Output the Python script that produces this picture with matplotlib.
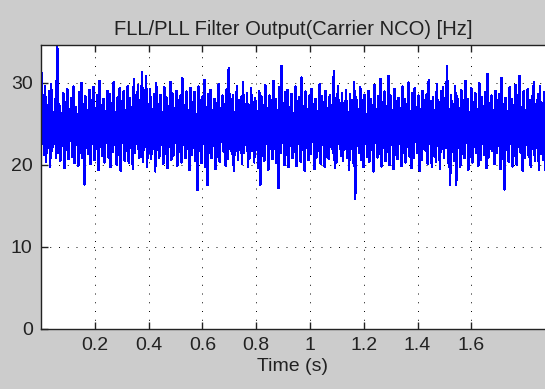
import matplotlib
matplotlib.use("Agg")
import matplotlib.pyplot as plt
import numpy as np

# upper and lower swings of the NCO output, read left to right off the plot
peaks = [
    33.0, 28.4, 29.6, 27.1, 28.9, 29.8, 26.4, 28.0, 34.5, 27.3, 25.9, 28.7, 27.6, 29.2, 26.8, 28.1, 29.5, 27.0, 26.2, 28.8, 29.9, 27.4, 28.3, 26.6, 29.1,
    27.8, 29.4, 26.9, 28.5, 30.2, 27.2, 28.0, 26.5, 29.0, 28.6, 27.5, 30.0, 26.3, 28.2, 29.3, 27.7, 28.9, 26.7, 29.6, 28.1, 27.0, 30.4, 28.4, 29.7, 27.9,
    31.3, 28.0, 30.8, 27.4, 29.2, 26.8, 28.6, 29.9, 27.3, 28.5, 26.4, 29.4, 28.2, 27.1, 30.1, 28.7, 26.9, 29.0, 27.8, 28.4, 30.5, 27.2, 28.9, 26.6, 29.3,
    27.6, 28.8, 26.2, 29.5, 27.9, 28.3, 30.3, 27.0, 28.6, 29.1, 26.7, 28.0, 27.5, 29.8, 26.9, 28.4, 27.3, 29.2, 31.8, 27.7, 28.5, 26.4, 29.6, 27.9, 28.2,
    30.0, 27.4, 28.7, 26.8, 29.3, 27.6, 28.1, 26.5, 29.0, 28.3, 27.2, 29.7, 26.9, 28.4, 27.8, 30.2, 28.0, 26.6, 29.4, 32.0, 27.5, 28.8, 29.1, 27.0, 28.6,
    26.3, 29.5, 27.7, 28.2, 30.6, 27.1, 28.9, 26.8, 28.4, 29.2, 27.4, 28.0, 26.5, 29.8, 28.3, 27.6, 29.0, 26.9, 28.5, 27.3, 31.4, 28.1, 29.6, 27.0, 28.7,
    27.5, 29.1, 26.4, 28.6, 27.9, 30.1, 28.2, 26.7, 29.4, 27.8, 28.5, 26.2, 29.0, 28.0, 27.2, 29.7, 26.8, 28.3, 30.4, 27.6, 28.9, 27.1, 30.8, 28.4, 26.6,
    29.2, 27.7, 28.1, 26.9, 29.5, 28.0, 27.3, 30.0, 26.5, 28.7, 29.3, 27.0, 28.4, 26.8, 29.0, 27.9, 28.6, 30.3, 27.2, 28.2, 26.6, 29.8, 27.5, 28.9, 29.4,
    28.1, 32.0, 26.7, 28.5, 27.4, 29.6, 28.3, 26.9, 29.1, 27.8, 30.2, 28.0, 26.4, 29.3, 27.6, 28.7, 26.8, 29.9, 28.2, 27.1, 28.8, 31.0, 27.5, 28.4, 26.6,
    29.0, 27.9, 28.6, 30.5, 27.3, 28.1, 26.5, 29.4, 28.0, 27.2, 29.7, 28.4, 30.8, 27.0, 28.9, 26.7, 29.2, 27.8, 28.3, 30.1, 26.9, 28.6, 29.5, 27.4, 28.8,
]
troughs = [
    23.5, 21.2, 20.4, 22.1, 19.8, 21.7, 22.6, 20.9, 21.4, 20.5, 22.3, 19.6, 21.8, 20.7, 22.9, 21.0, 20.2, 22.4, 19.9, 21.5, 20.8, 17.6, 22.0, 21.3, 20.1,
    22.5, 20.6, 21.9, 19.4, 22.2, 21.1, 20.3, 22.7, 20.9, 19.7, 21.6, 22.4, 20.0, 21.2, 19.3, 22.8, 20.5, 21.7, 20.2, 22.1, 19.5, 21.4, 22.6, 20.8, 21.0,
    20.4, 22.3, 19.8, 21.5, 20.7, 22.0, 19.2, 21.8, 20.9, 22.5, 20.1, 21.3, 19.6, 22.2, 20.6, 21.1, 22.7, 19.9, 21.6, 20.3, 22.4, 20.8, 21.9, 19.4, 21.2,
    22.1, 20.5, 16.9, 21.7, 20.2, 22.6, 19.7, 17.5, 21.4, 20.8, 22.3, 19.5, 21.0, 20.4, 22.8, 21.6, 19.9, 20.7, 22.0, 21.3, 19.3, 22.5, 20.6, 21.8, 20.1,
    21.5, 22.4, 19.8, 20.9, 21.7, 20.3, 22.2, 19.6, 17.5, 21.1, 20.5, 22.6, 19.4, 21.9, 20.7, 22.0, 20.2, 17.2, 21.4, 22.7, 20.0, 21.2, 19.7, 22.3, 20.8,
    21.6, 19.9, 22.5, 20.4, 21.8, 19.3, 22.1, 20.6, 21.3, 22.8, 19.5, 20.9, 21.7, 20.1, 22.4, 19.8, 21.0, 20.7, 22.2, 21.5, 19.6, 20.3, 22.6, 21.1, 20.5,
    22.0, 20.8, 19.4, 21.9, 20.2, 15.8, 22.3, 21.4, 20.6, 19.7, 22.5, 21.0, 20.4, 21.8, 19.2, 22.7, 20.9, 21.3, 19.8, 22.1, 20.5, 21.6, 20.0, 22.4, 19.5,
    21.2, 20.7, 22.6, 19.9, 21.5, 20.3, 22.2, 21.0, 19.6, 20.8, 22.8, 21.4, 19.3, 20.6, 22.0, 21.7, 20.1, 22.5, 19.8, 21.1, 20.4, 22.3, 19.5, 21.9, 20.9,
    22.1, 20.2, 17.6, 21.6, 20.5, 17.5, 22.4, 19.7, 21.3, 20.8, 22.7, 19.4, 21.0, 20.3, 22.2, 21.5, 19.9, 20.6, 22.5, 21.2, 19.6, 20.9, 22.0, 21.7, 20.1,
    21.4, 22.3, 19.5, 20.7, 17.0, 21.8, 20.4, 22.6, 19.8, 21.1, 20.0, 22.2, 21.5, 19.3, 20.8, 22.4, 21.0, 19.7, 21.9, 20.5, 22.1, 19.4, 21.3, 20.6, 19.4,
]

t_end = 1.874
xticks = [0.2, 0.4, 0.6, 0.8, 1, 1.2, 1.4, 1.6]
yticks = [0, 10, 20, 30]


def plotFig(nco):
    t = np.linspace(0, t_end, len(nco))

    plt.rcParams['font.family'] = ['Liberation Sans', 'DejaVu Sans']
    fig = plt.figure(figsize=(5.45, 3.89), dpi=100, facecolor='#cccccc')
    ax = fig.add_axes([0.0752, 0.1555, 0.9248, 0.7288])
    ax.plot(t, nco, color='#0000ff', lw=1.2, antialiased=False)

    ax.set_xlim(0, t_end)
    ax.set_ylim(0, 34.6)
    ax.set_xticks(xticks)
    ax.set_xticklabels(['0.2', '0.4', '0.6', '0.8', '1', '1.2', '1.4', '1.6'])
    ax.set_yticks(yticks)
    ax.tick_params(direction='in', length=5, width=1, colors='#222222',
                   labelsize=14, top=True, right=False, pad=6)
    ax.grid(True, color='black', linestyle=(0, (1, 8)), lw=0.7)
    ax.spines['right'].set_visible(False)
    for s in ['left', 'top', 'bottom']:
        ax.spines[s].set_color('#222222')
        ax.spines[s].set_linewidth(1)

    ax.set_title('FLL/PLL Filter Output(Carrier NCO) [Hz]', fontsize=14.5,
                 color='#222222', pad=7)
    ax.set_xlabel('Time (s)', fontsize=14, color='#222222', labelpad=3)

    fig.savefig('out.png', dpi=100, facecolor=fig.get_facecolor())


def main():
    nco = np.column_stack([peaks, troughs]).ravel()
    plotFig(nco)


if __name__ == '__main__':
    main()
